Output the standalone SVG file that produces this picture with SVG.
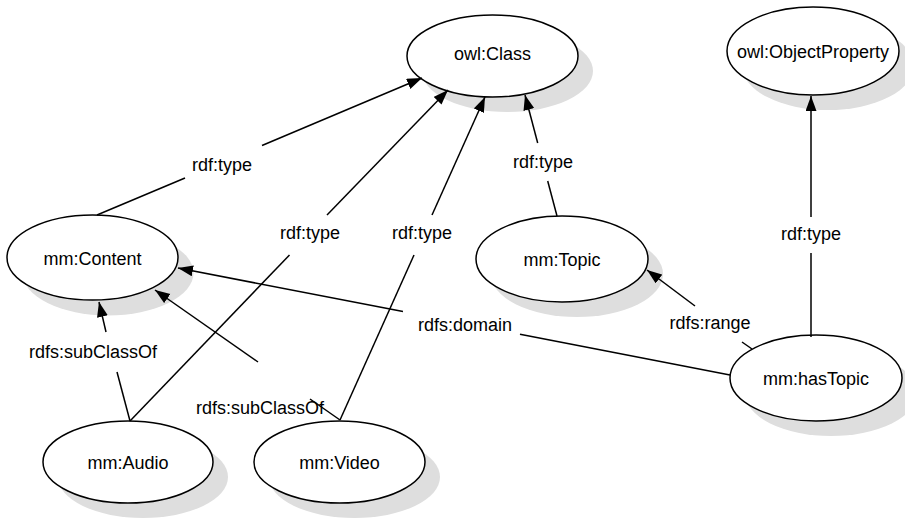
<svg xmlns="http://www.w3.org/2000/svg" width="905" height="519" viewBox="0 0 905 519">
<style>
.shadow{fill:#dedede;stroke:none}
.node{fill:#ffffff;stroke:#000000;stroke-width:1.5}
.nt{font-family:"Liberation Sans",Arial,sans-serif;font-size:18px;fill:#000000;text-anchor:middle}
.edge line{stroke:#000000;stroke-width:1.5}
.lbl{font-family:"Liberation Sans",Arial,sans-serif;font-size:18px;fill:#000000;text-anchor:middle}
</style>
<defs>
<marker id="arr" markerUnits="userSpaceOnUse" markerWidth="16" markerHeight="12" refX="15" refY="5.5" orient="auto">
<path d="M0,0 L15,5.5 L0,11 z" fill="#000000"/>
</marker>
</defs>
<rect width="905" height="519" fill="#ffffff"/>
<g id="owl-class">
<ellipse class="shadow" cx="507.5" cy="71" rx="85.5" ry="41"/>
<ellipse class="node" cx="492.5" cy="56" rx="85.5" ry="41"/>
<text class="nt" x="492.5" y="60">owl:Class</text>
</g>
<g id="owl-objectproperty">
<ellipse class="shadow" cx="828" cy="66" rx="86" ry="44"/>
<ellipse class="node" cx="813" cy="51" rx="86" ry="44"/>
<text class="nt" x="813" y="58">owl:ObjectProperty</text>
</g>
<g id="mm-content">
<ellipse class="shadow" cx="108" cy="273" rx="85.5" ry="42.5"/>
<ellipse class="node" cx="92.5" cy="257.5" rx="85.5" ry="42.5"/>
<text class="nt" x="92.5" y="265">mm:Content</text>
</g>
<g id="mm-topic">
<ellipse class="shadow" cx="577" cy="274" rx="86" ry="43"/>
<ellipse class="node" cx="562" cy="259" rx="86" ry="43"/>
<text class="nt" x="562" y="266">mm:Topic</text>
</g>
<g id="mm-hastopic">
<ellipse class="shadow" cx="831" cy="393" rx="86" ry="43"/>
<ellipse class="node" cx="816" cy="378" rx="86" ry="43"/>
<text class="nt" x="816" y="385">mm:hasTopic</text>
</g>
<g id="mm-audio">
<ellipse class="shadow" cx="143" cy="477" rx="85" ry="41"/>
<ellipse class="node" cx="128" cy="462" rx="85" ry="41"/>
<text class="nt" x="128" y="469">mm:Audio</text>
</g>
<g id="mm-video">
<ellipse class="shadow" cx="354.5" cy="477" rx="85.5" ry="41"/>
<ellipse class="node" cx="339.5" cy="462" rx="85.5" ry="41"/>
<text class="nt" x="339.5" y="469">mm:Video</text>
</g>
<g id="connectors" class="edge">
<line x1="97" y1="215" x2="185" y2="178"/>
<line x1="262" y1="145.5" x2="422" y2="78" marker-end="url(#arr)"/>
<line x1="130" y1="421" x2="289.5" y2="255"/>
<line x1="327" y1="215" x2="448" y2="90" marker-end="url(#arr)"/>
<line x1="340" y1="420" x2="414" y2="255"/>
<line x1="432" y1="215" x2="485" y2="97" marker-end="url(#arr)"/>
<line x1="557" y1="216" x2="547.7" y2="181"/>
<line x1="537.7" y1="143" x2="525" y2="95" marker-end="url(#arr)"/>
<line x1="130" y1="421" x2="117" y2="372"/>
<line x1="106" y1="332" x2="99" y2="302" marker-end="url(#arr)"/>
<line x1="340" y1="420" x2="310" y2="399"/>
<line x1="258" y1="362" x2="155" y2="290" marker-end="url(#arr)"/>
<line x1="730" y1="375" x2="520" y2="334.3"/>
<line x1="403" y1="311.6" x2="178" y2="268" marker-end="url(#arr)"/>
<line x1="752" y1="349" x2="742" y2="342"/>
<line x1="695" y1="306" x2="647" y2="270" marker-end="url(#arr)"/>
<line x1="811" y1="337" x2="811" y2="253"/>
<line x1="811" y1="217" x2="811" y2="96" marker-end="url(#arr)"/>
<text class="lbl" x="222" y="171">rdf:type</text>
<text class="lbl" x="543" y="168">rdf:type</text>
<text class="lbl" x="310" y="239">rdf:type</text>
<text class="lbl" x="422" y="239">rdf:type</text>
<text class="lbl" x="811" y="240">rdf:type</text>
<text class="lbl" x="93" y="358">rdfs:subClassOf</text>
<text class="lbl" x="260" y="414">rdfs:subClassOf</text>
<text class="lbl" x="465" y="331">rdfs:domain</text>
<text class="lbl" x="710" y="329">rdfs:range</text>
</g>
</svg>
